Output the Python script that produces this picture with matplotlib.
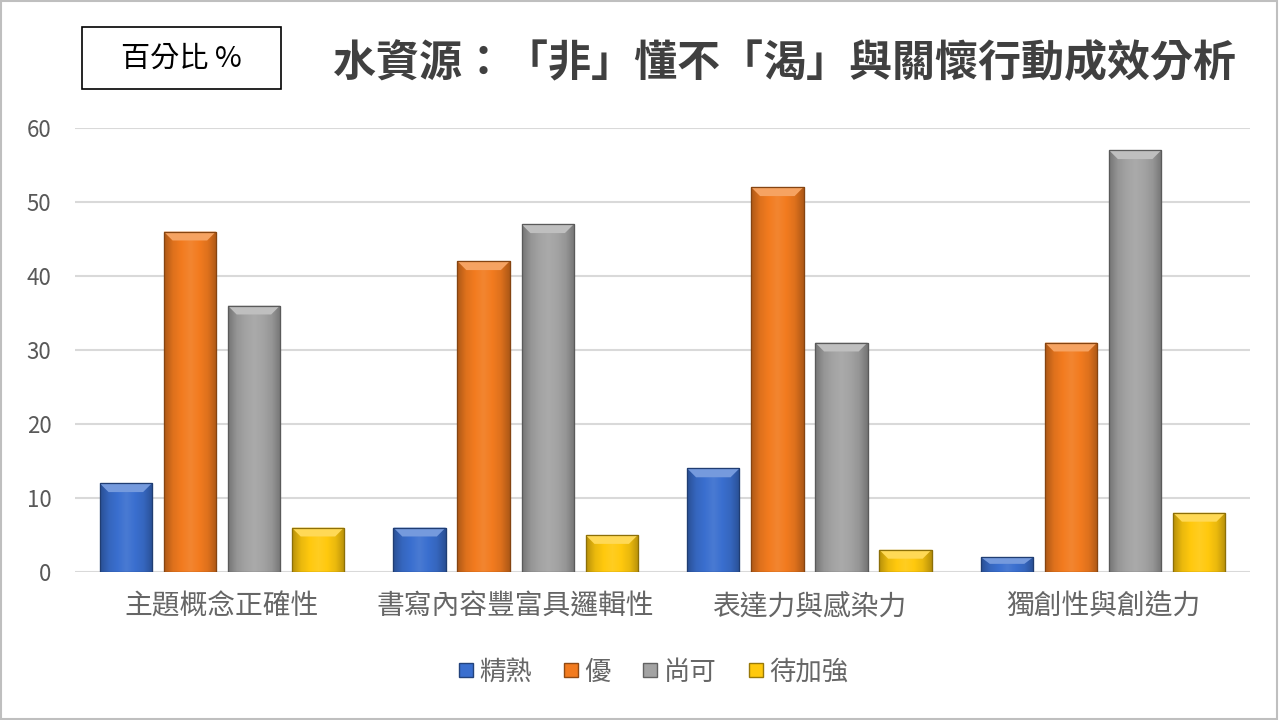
import numpy as np
import matplotlib
matplotlib.use("Agg")
import matplotlib.pyplot as plt
from matplotlib.patches import Polygon, Rectangle
from matplotlib.colors import LinearSegmentedColormap, to_rgb
from matplotlib.lines import Line2D

plt.rcParams['font.family'] = ['Noto Sans CJK TC', 'DejaVu Sans']

categories = ["主題概念正確性", "書寫內容豐富具邏輯性", "表達力與感染力", "獨創性與創造力"]
series_names = ["精熟", "優", "尚可", "待加強"]
values_jingshu = [12, 6, 14, 2]
values_you = [46, 42, 52, 31]
values_shangke = [36, 47, 31, 57]
values_daijiaqiang = [6, 5, 3, 8]
series_values = [values_jingshu, values_you, values_shangke, values_daijiaqiang]
colors = ["#3A6FCF", "#F27B1F", "#A3A3A3", "#FFC90E"]
yticks = [0, 10, 20, 30, 40, 50, 60]
title = "水資源：「非」懂不「渴」與關懷行動成效分析"
unit_label = "百分比 %"

fig = plt.figure(figsize=(12.8, 7.2), dpi=100)
fig.patch.set_facecolor("white")
ax = fig.add_axes([75/1280, 1-572/720, 1175/1280, 444/720])

x = np.arange(len(categories))
pitch = 0.218
width = 0.178

def shade(c, f):
    r = np.array(to_rgb(c))
    if f < 1:
        return tuple(r * f)
    return tuple(r + (1 - r) * (f - 1))

for i, (vals, col) in enumerate(zip(series_values, colors)):
    offs = (i - 1.5) * pitch
    bars = ax.bar(x + offs, vals, width=width, color=col, zorder=3,
                  edgecolor=shade(col, 0.6), linewidth=0.8)
    cmap = LinearSegmentedColormap.from_list(
        "g", [shade(col, 0.72), shade(col, 0.92), col, shade(col, 1.08), col,
              shade(col, 0.92), shade(col, 0.72)])
    grad = np.linspace(0, 1, 64).reshape(1, -1)
    for b in bars:
        x0 = b.get_x(); w = b.get_width(); h = b.get_height()
        im = ax.imshow(grad, cmap=cmap, extent=[x0, x0 + w, 0, h],
                       aspect='auto', zorder=3.1, interpolation='bilinear')
        im.set_clip_path(b)
        dx = w * 0.17
        dy = min(1.2, h * 0.45)
        top = Polygon([(x0, h), (x0 + w, h), (x0 + w - dx, h - dy), (x0 + dx, h - dy)],
                      closed=True, facecolor=shade(col, 1.3), edgecolor='none', zorder=3.2)
        ax.add_patch(top)
        ax.add_patch(Rectangle((x0, 0), w, h, fill=False,
                               edgecolor=shade(col, 0.55), linewidth=0.9, zorder=3.3))

ax.set_xlim(-0.5, len(categories) - 0.5)
ax.set_ylim(0, 60)
ax.set_yticks(yticks)
ax.set_yticklabels([str(t) for t in yticks], fontsize=16, color="#595959")
ax.set_xticks(x)
ax.set_xticklabels(categories, fontsize=20, color="#666666")
ax.tick_params(axis='both', length=0)
ax.tick_params(axis='x', pad=14)
ax.tick_params(axis='y', pad=17)
ax.grid(axis='y', color="#D9D9D9", linewidth=1.5, zorder=0)
for s in ax.spines.values():
    s.set_visible(False)
ax.set_facecolor("none")

handles = [Line2D([], [], marker='s', linestyle='none', markersize=10.5,
                  markerfacecolor=c, markeredgecolor=shade(c, 0.6)) for c in colors]
fig.legend(handles, series_names, loc='center', bbox_to_anchor=(649/1280, 1-672/720),
           ncol=4, frameon=False, fontsize=19, labelcolor="#666666",
           handletextpad=-0.1, columnspacing=0.9, handlelength=1.2)

fig.text(333/1280, 1-63/720, title, fontsize=31, color="#404040", fontweight='bold',
         ha='left', va='center')

fig.add_artist(Rectangle((82/1280, 1-89/720), 199/1280, 62/720, transform=fig.transFigure,
                         fill=False, edgecolor="black", linewidth=1.2))
fig.text(181/1280, 1-59/720, unit_label, fontsize=21, color="black", ha='center', va='center')

fig.add_artist(Rectangle((0.001, 0.002), 0.997, 0.996, transform=fig.transFigure,
                         fill=False, edgecolor="#BFBFBF", linewidth=1.5))

fig.savefig("out.png", dpi=100)
